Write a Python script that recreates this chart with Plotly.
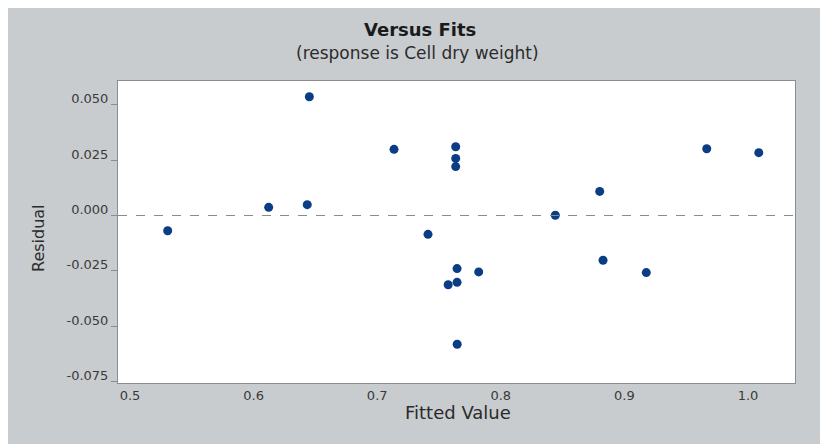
import plotly.graph_objects as go

# ---- data ----
fitted = [0.5305, 0.6122, 0.6434, 0.6451, 0.7136, 0.7411, 0.7635, 0.7635,
          0.7635, 0.7646, 0.7574, 0.7646, 0.7647, 0.7821, 0.8441, 0.8800,
          0.8827, 0.9177, 0.9666, 1.0087]
residual = [-0.0069, 0.0037, 0.0049, 0.0537, 0.0299, -0.0085, 0.0311, 0.0258,
            0.0221, -0.0240, -0.0313, -0.0302, -0.0582, -0.0255, 0.0001, 0.0109,
            -0.0202, -0.0258, 0.0302, 0.0284]
x_ticks = [0.5, 0.6, 0.7, 0.8, 0.9, 1.0]
x_tick_labels = ["0.5", "0.6", "0.7", "0.8", "0.9", "1.0"]
y_ticks = [0.050, 0.025, 0.0, -0.025, -0.050, -0.075]
y_tick_labels = ["0.050", "0.025", "0.000", "-0.025", "-0.050", "-0.075"]
title_text = "Versus Fits"
subtitle_text = "(response is Cell dry weight)"
x_title = "Fitted Value"
y_title = "Residual"

# ---- layout geometry (the page body adds an 8px offset) ----
W, H = 828, 444
OFF = 8
# plot box in screen pixels: left 118, top 81, right 795, bottom 383
L, T = 118 - OFF, 81 - OFF
R, B = W - (795 - OFF), H - (383 - OFF)
PW, PH = W - L - R, H - T - B


def px_x(p):
    return (p - OFF - L) / PW


def px_y(p):
    return (H - B - (p - OFF)) / PH


GRAY = "#c9cccf"
TXT = "#2b2b2b"
FONT = "DejaVu Sans"

fig = go.Figure()
fig.add_trace(go.Scatter(
    x=fitted, y=residual, mode="markers",
    marker=dict(size=9, color="#0b3d84", line=dict(width=0)),
    showlegend=False, hoverinfo="x+y",
))

fig.add_hline(y=0, line=dict(color="#8a8a8a", width=1, dash="dash"))

annotations = [
    dict(text=title_text, xref="paper", yref="paper", x=px_x(419.5), y=px_y(30),
         xanchor="center", yanchor="middle", showarrow=False,
         font=dict(family=FONT, size=18, color="#1a1a1a", weight="bold")),
    dict(text=subtitle_text, xref="paper", yref="paper", x=px_x(417), y=px_y(52.5),
         xanchor="center", yanchor="middle", showarrow=False,
         font=dict(family=FONT, size=17, color=TXT)),
    dict(text=x_title, xref="paper", yref="paper", x=px_x(458), y=px_y(412.5),
         xanchor="center", yanchor="middle", showarrow=False,
         font=dict(family=FONT, size=18, color=TXT)),
    dict(text=y_title, xref="paper", yref="paper", x=px_x(38), y=px_y(238),
         xanchor="center", yanchor="middle", showarrow=False, textangle=-90,
         font=dict(family=FONT, size=16, color=TXT)),
]

fig.update_layout(
    width=W, height=H,
    margin=dict(l=L, r=R, t=T, b=B, autoexpand=False),
    paper_bgcolor=GRAY, plot_bgcolor="white",
    annotations=annotations,
    xaxis=dict(
        range=[0.4903, 1.038], tickvals=x_ticks, ticktext=x_tick_labels,
        ticks="", showgrid=False, zeroline=False,
        showline=True, mirror=True, linecolor="#8c8c8c", linewidth=1,
        tickfont=dict(family=FONT, size=13, color="#3a3a3a"),
        fixedrange=True,
    ),
    yaxis=dict(
        range=[-0.0757, 0.0608], tickvals=y_ticks, ticktext=y_tick_labels,
        ticks="outside", ticklen=6, tickcolor="#8c8c8c", tickwidth=1,
        showgrid=False, zeroline=False,
        showline=True, mirror=True, linecolor="#8c8c8c", linewidth=1,
        tickfont=dict(family=FONT, size=13, color="#3a3a3a"),
        ticklabelshift=-6,
        fixedrange=True,
    ),
)

fig.write_html("out.html")
